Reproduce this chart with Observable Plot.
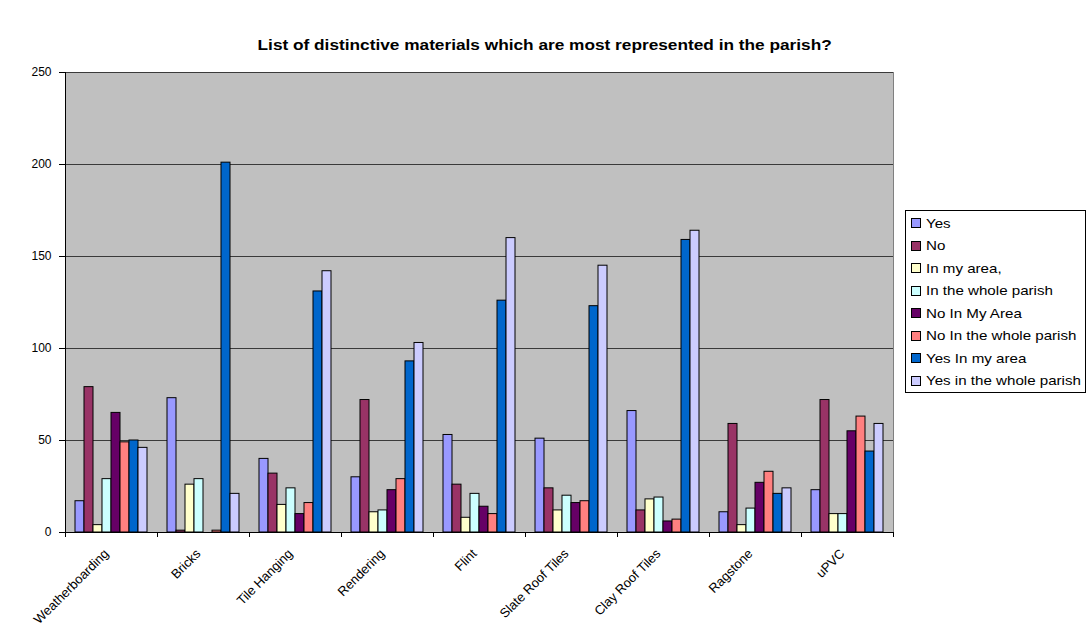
<!DOCTYPE html>
<html>
<head>
<meta charset="utf-8">
<script src="https://cdn.jsdelivr.net/npm/d3@7"></script>
<script src="https://cdn.jsdelivr.net/npm/@observablehq/plot@0.6"></script>
<style>
  body { margin: 0; background: #fff; font-family: Arial, "Liberation Sans", sans-serif; }
  #wrap { position: relative; width: 1089px; height: 637px; overflow: hidden; background: #fff; }
  #chart { position: absolute; left: 0; top: 0; }
  #title { position: absolute; left: 0; top: 36px; width: 1089px; text-align: center; color: #000; }
  #title span { display: inline-block; font-weight: bold; font-size: 15px; transform: scaleX(1.15); transform-origin: center; }
  #legend { position: absolute; left: 905px; top: 210px; width: 181px; height: 183px; border: 1px solid #000; background: #fff; box-sizing: border-box; padding-top: 1px; }
  .item { height: 22.5px; display: flex; align-items: center; color: #000; white-space: nowrap; }
  .item .tx { display: inline-block; font-size: 13.5px; transform: scaleX(1.12); transform-origin: left center; }
  .sw { display: inline-block; width: 8px; height: 8px; border: 1px solid #000; margin-left: 5px; margin-right: 5px; flex: none; }
</style>
</head>
<body>
<div id="wrap">
  <div id="chart"></div>
  <div id="title"><span></span></div>
  <div id="legend"></div>
</div>
<script>
const titleText = "List of distinctive materials which are most represented in the parish?";
const categories = ["Weatherboarding", "Bricks", "Tile Hanging", "Rendering", "Flint", "Slate Roof Tiles", "Clay Roof Tiles", "Ragstone", "uPVC"];
const series = ["Yes", "No", "In my area,", "In the whole parish", "No In My Area", "No In the whole parish", "Yes In my area", "Yes in the whole parish"];
const colors = ["#9999FF", "#993366", "#FFFFCC", "#CCFFFF", "#660066", "#FF8080", "#0066CC", "#CCCCFF"];
const yTicks = [0, 50, 100, 150, 200, 250];

const yes              = [17, 73, 40, 30, 53, 51, 66, 11, 23];
const no               = [79, 1, 32, 72, 26, 24, 12, 59, 72];
const inMyArea         = [4, 26, 15, 11, 8, 12, 18, 4, 10];
const inWholeParish    = [29, 29, 24, 12, 21, 20, 19, 13, 10];
const noInMyArea       = [65, 0, 10, 23, 14, 16, 6, 27, 55];
const noInWholeParish  = [49, 1, 16, 29, 10, 17, 7, 33, 63];
const yesInMyArea      = [50, 201, 131, 93, 126, 123, 159, 21, 44];
const yesInWholeParish = [46, 21, 142, 103, 160, 145, 164, 24, 59];

const seriesValues = [yes, no, inMyArea, inWholeParish, noInMyArea, noInWholeParish, yesInMyArea, yesInWholeParish];

const data = [];
series.forEach((s, j) => categories.forEach((c, i) => data.push({category: c, series: s, value: seriesValues[j][i]})));

// tick marks at category boundaries (drawn in each facet at its edges)
function categoryTicks(index, scales, values, dimensions) {
  const {marginLeft, marginRight, marginBottom, width, height} = dimensions;
  const g = d3.create("svg:g").attr("stroke", "#000").attr("shape-rendering", "crispEdges");
  for (const x of [marginLeft, width - marginRight]) {
    g.append("line").attr("x1", x).attr("x2", x).attr("y1", height - marginBottom).attr("y2", height - marginBottom + 5);
  }
  return g.node();
}

const chart = Plot.plot({
  width: 1089,
  height: 637,
  marginTop: 72,
  marginBottom: 105,
  marginLeft: 63,
  marginRight: 195,
  style: {fontFamily: "Arial, 'Liberation Sans', sans-serif", fontSize: "12px", color: "#000", background: "transparent"},
  fx: {domain: categories, padding: 0, label: null},
  x: {domain: series, paddingInner: 0, paddingOuter: 0.75, axis: null},
  y: {domain: [0, 250], label: null},
  color: {domain: series, range: colors},
  marks: [
    Plot.frame({fill: "#C0C0C0", stroke: "none", shapeRendering: "crispEdges"}),
    Plot.ruleY(yTicks.filter(d => d > 0), {stroke: "#3a3a3a", shapeRendering: "crispEdges"}),
    Plot.barY(data.filter(d => d.value > 0), {fx: "category", x: "series", y: "value", fill: "series", stroke: "#000", strokeWidth: 1}),
    Plot.frame({anchor: "right", facetAnchor: "right", stroke: "#808080"}),
    Plot.ruleY([0], {stroke: "#000", shapeRendering: "crispEdges"}),
    Plot.frame({anchor: "left", facetAnchor: "left", stroke: "#000"}),
    categoryTicks,
    Plot.axisY({ticks: yTicks, tickSize: 6, tickPadding: 8, fontSize: 12}),
    Plot.axisFx({anchor: "bottom", tickRotate: -45, tickSize: 0, tickPadding: 19, dx: -5, fontSize: 13, label: null})
  ]
});
document.getElementById("chart").appendChild(chart);
document.querySelector("#title span").textContent = titleText;

const legend = document.getElementById("legend");
series.forEach((s, j) => {
  const it = document.createElement("div");
  it.className = "item";
  const sw = document.createElement("span");
  sw.className = "sw";
  sw.style.background = colors[j];
  const tx = document.createElement("span");
  tx.className = "tx";
  tx.textContent = s;
  it.appendChild(sw);
  it.appendChild(tx);
  legend.appendChild(it);
});
</script>
</body>
</html>
